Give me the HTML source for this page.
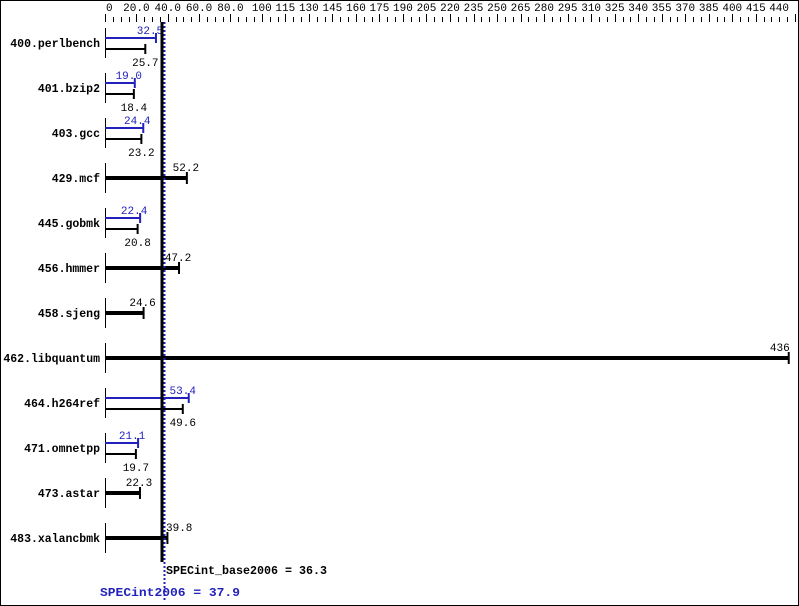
<!DOCTYPE html>
<html><head><meta charset="utf-8"><style>
html,body{margin:0;padding:0;background:#fff}
svg{display:block}
text{font-family:"Liberation Mono","DejaVu Sans Mono",monospace;font-size:11px}
.b{font-weight:bold;font-family:"Liberation Mono",monospace;font-size:11.5px}
</style></head><body>
<svg width="799" height="606" xmlns="http://www.w3.org/2000/svg">
<rect x="0.5" y="0.5" width="798" height="605" fill="#fff" stroke="#000"/>
<g id="axis"></g>
<g id="rows"></g>
<line x1="162" y1="22" x2="162" y2="562" stroke="#000" stroke-width="3"/>
<line x1="164.5" y1="22" x2="164.5" y2="600" stroke="#2222bb" stroke-width="2" stroke-dasharray="2,2"/>
<text class="b" x="166" y="574" textLength="161" lengthAdjust="spacingAndGlyphs">SPECint_base2006 = 36.3</text>
<text class="b" x="100" y="596" fill="#2222bb" textLength="140" lengthAdjust="spacingAndGlyphs">SPECint2006 = 37.9</text>
</svg>
<script>
var NS="http://www.w3.org/2000/svg";
function X(v){return 105+v*690/440;}
function el(p,t,a,tx){var e=document.createElementNS(NS,t);for(var k in a)e.setAttribute(k,a[k]);if(tx!=null)e.textContent=tx;p.appendChild(e);return e;}
var ax=document.getElementById('axis');
var labels=[0,20,40,60,80,100,115,130,145,160,175,190,205,220,235,250,265,280,295,310,325,340,355,370,385,400,415,440];
for(var v=0;v<=440;v+=5){var L=labels.indexOf(v)>=0;var x=Math.round(X(v))+0.5;el(ax,'line',{x1:x,x2:x,y1:L?14:17,y2:22,stroke:'#000'});}
labels.forEach(function(v){var s=v<=80&&v>0?v.toFixed(1):String(v);
if(v==0)el(ax,'text',{x:106,y:11},s);
else if(v==440)el(ax,'text',{x:789,y:11,'text-anchor':'end'},s);
else el(ax,'text',{x:X(v),y:11,'text-anchor':'middle'},s);});
var rows=[["400.perlbench",32.5,25.7],["401.bzip2",19.0,18.4],["403.gcc",24.4,23.2],["429.mcf",null,52.2],["445.gobmk",22.4,20.8],["456.hmmer",null,47.2],["458.sjeng",null,24.6],["462.libquantum",null,436],["464.h264ref",53.4,49.6],["471.omnetpp",21.1,19.7],["473.astar",null,22.3],["483.xalancbmk",null,39.8]];
var g=document.getElementById('rows');
rows.forEach(function(r,i){var c=43+45*i;
el(g,'text',{x:100,y:c+4,'text-anchor':'end',class:'b'},r[0]);
el(g,'line',{x1:105.5,x2:105.5,y1:c-15,y2:c+15,stroke:'#000'});
if(r[1]!=null){var xb=X(r[1]),xk=X(r[2]);
el(g,'line',{x1:105,x2:xb,y1:c-5,y2:c-5,stroke:'#2222bb','stroke-width':2});
el(g,'line',{x1:xb,x2:xb,y1:c-10,y2:c,stroke:'#2222bb','stroke-width':2});
el(g,'text',{x:xb-6,y:c-9,'text-anchor':'middle',fill:'#2222bb'},r[1].toFixed(1));
el(g,'line',{x1:105,x2:xk,y1:c+6,y2:c+6,stroke:'#000','stroke-width':2});
el(g,'line',{x1:xk,x2:xk,y1:c+1,y2:c+11,stroke:'#000','stroke-width':2});
el(g,'text',{x:xk,y:c+23,'text-anchor':'middle'},r[2].toFixed(1));
}else{var xs=X(r[2]);
el(g,'line',{x1:105,x2:xs,y1:c,y2:c,stroke:'#000','stroke-width':4});
el(g,'line',{x1:xs,x2:xs,y1:c-6,y2:c+6,stroke:'#000','stroke-width':2});
var s=r[2]>=100?String(r[2]):r[2].toFixed(1);
if(r[2]>400)el(g,'text',{x:xs+1,y:c-7,'text-anchor':'end'},s);
else if(r[2]<42&&r[2]>35)el(g,'text',{x:166,y:c-7},s);
else el(g,'text',{x:xs-1,y:c-7,'text-anchor':'middle'},s);}
});
</script>
</body></html>
